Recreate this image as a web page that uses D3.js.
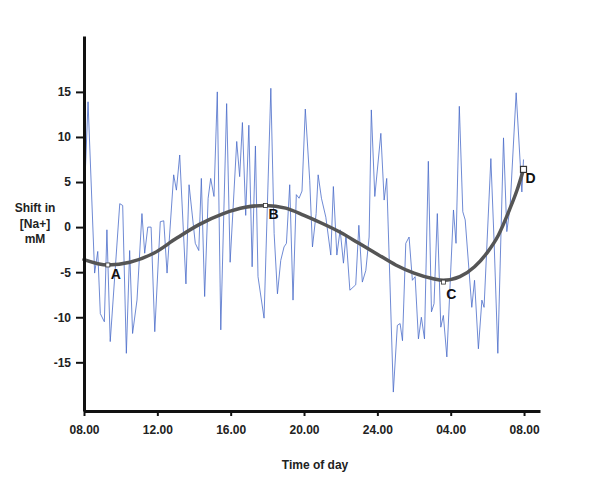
<!DOCTYPE html>
<html>
<head>
  <title>Shift in Na+ over the day</title>
  <style>
    body { margin: 0; background: #fff; }
    svg { font-family: "Liberation Sans", Arial, sans-serif; }
    .axis text { font-size: 12px; font-weight: bold; fill: #222; }
    .axis-label { font-size: 12px; font-weight: bold; fill: #222; }
    .mark-label { font-size: 14px; font-weight: bold; fill: #111; }
  </style>
</head>
<body>
  <script src="https://d3js.org/d3.v7.min.js"></script>
  <script>
// hours after 08.00 and the raw shift values (mM)
const rawHours = [0.05, 0.22, 0.58, 0.75, 0.89, 1.11, 1.25, 1.43, 1.95, 2.11, 2.31, 2.49, 2.65, 2.89,
  3.16, 3.31, 3.48, 3.66, 3.86, 4.16, 4.35, 4.53, 4.89, 5.04, 5.22, 5.56, 5.73, 6.07, 6.26, 6.40,
  6.58, 6.77, 6.91, 7.09, 7.27, 7.46, 7.78, 7.97, 8.33, 8.49, 8.64, 8.82, 8.99, 9.17, 9.35, 9.49,
  9.82, 10.19, 10.37, 10.55, 10.73, 10.91, 11.04, 11.22, 11.40, 11.58, 11.73, 11.89, 12.07, 12.31,
  12.46, 12.66, 12.77, 12.95, 13.19, 13.46, 13.60, 13.79, 13.97, 14.15, 14.29, 14.50, 14.82, 14.99,
  15.18, 15.37, 15.55, 15.67, 15.86, 16.19, 16.37, 16.51, 16.87, 17.09, 17.24, 17.37, 17.55, 17.73,
  17.91, 18.06, 18.24, 18.40, 18.57, 18.78, 18.95, 19.09, 19.27, 19.46, 19.60, 19.79, 20.15, 20.29,
  20.47, 20.66, 20.79, 21.15, 21.30, 21.51, 21.70, 21.82, 22.19, 22.37, 22.57, 22.88, 23.06, 23.24,
  23.57, 23.88, 23.97];
const rawValues = [5, 13.9, -5.1, -2.7, -9.6, -10.5, -0.3, -12.7, 2.6, 2.4, -14.0, -2.6, -11.8, -8.1,
  1.5, -2.9, 0, 0, -11.6, 0.6, 0.7, -5.1, 5.8, 4.1, 8.0, -6.3, 4.7, -1.8, -2.6, 5.4,
  -7.7, 3.2, 5.4, 3.4, 15.0, -11.4, 13.7, -3.9, 9.5, 5.6, 11.6, 1.3, 11.3, -4.4, 9.0, -5.5,
  -10.1, 15.4, -0.7, -7.4, -3.7, -2.2, -1.8, 4.7, -8.1, 3.6, 3.2, 4.0, 13.1, 5.2,
  -2.2, 1.5, 5.8, 3.2, 1.1, -3.1, 4.5, -3.1, -0.3, -4.0, -0.9, -7.0, -6.4, 0.2,
  -6.1, -4.8, -1.1, 13.0, 3.4, 10.4, 3.0, 5.4, -18.3, -10.9, -10.7, -12.6, -1.8, -1.1,
  -5.9, -5.5, -12.4, -10.0, -12.4, 7.3, -9.4, -8.5, 1.5, -11.1, -9.8, -14.4, 1.9, -1.8,
  13.4, 1.7, 0.8, -8.9, -5.9, -13.5, -8.1, -8.9, 7.6, -1.8, -14.0, 9.9, -0.5, 2.3,
  14.9, 3.9, 7.5];

// fitted trend
const fitHours = [0, 1.3, 2.5, 3.8, 5.0, 6.3, 7.6, 8.8, 9.9, 11.0, 12.0, 13.0, 14.0, 15.0, 16.0,
  17.0, 18.0, 19.0, 19.6, 20.5, 21.3, 22.0, 22.6, 23.2, 23.6, 23.97];
const fitValues = [-3.6, -4.2, -3.9, -2.9, -1.3, 0.3, 1.5, 2.2, 2.4, 2.1, 1.3, 0.4, -0.6, -1.8, -3.0,
  -4.2, -5.1, -5.7, -5.9, -5.5, -4.4, -2.8, -0.9, 1.9, 4.0, 6.4];

const markNames = ["A", "B", "C", "D"];
const markHours = [1.3, 9.9, 19.6, 23.97];
const markValues = [-4.2, 2.4, -6.1, 6.4];

const xTickHours = [0, 4, 8, 12, 16, 20, 24];
const xTickLabels = ["08.00", "12.00", "16.00", "20.00", "24.00", "04.00", "08.00"];
const yTicks = [-15, -10, -5, 0, 5, 10, 15];

const width = 600, height = 490;

const svg = d3.select("body").append("svg")
  .attr("width", width)
  .attr("height", height);

const x = d3.scaleLinear().domain([0, 24.87]).range([84, 540]);
const y = d3.scaleLinear().domain([-20.4, 21.2]).range([411, 36]);

// raw series
const raw = rawHours.map((h, i) => [h, rawValues[i]]);
svg.append("path")
  .datum(raw)
  .attr("fill", "none")
  .attr("stroke", "#4a6cc9")
  .attr("stroke-width", 0.8)
  .attr("d", d3.line().x(d => x(d[0])).y(d => y(d[1])));

// trend curve
const fit = fitHours.map((h, i) => [h, fitValues[i]]);
svg.append("path")
  .datum(fit)
  .attr("fill", "none")
  .attr("stroke", "#555")
  .attr("stroke-width", 3.5)
  .attr("stroke-linecap", "round")
  .attr("d", d3.line().curve(d3.curveMonotoneX).x(d => x(d[0])).y(d => y(d[1])));

// axes
const xAxis = svg.append("g")
  .attr("class", "axis")
  .attr("transform", "translate(0,411)")
  .call(d3.axisBottom(x).tickValues(xTickHours)
    .tickFormat((d, i) => xTickLabels[i])
    .tickSize(5).tickSizeOuter(0).tickPadding(9));
xAxis.select(".domain").attr("stroke", "#111").attr("stroke-width", 3);
xAxis.selectAll(".tick line").attr("stroke", "#111").attr("stroke-width", 2);

const yAxis = svg.append("g")
  .attr("class", "axis")
  .attr("transform", "translate(84,0)")
  .call(d3.axisLeft(y).tickValues(yTicks)
    .tickFormat(d => String(d))
    .tickSize(8).tickSizeOuter(0).tickPadding(5));
yAxis.select(".domain").attr("stroke", "#111").attr("stroke-width", 3);
yAxis.selectAll(".tick line").attr("stroke", "#111").attr("stroke-width", 2);

// markers
markNames.forEach((name, i) => {
  const s = name === "D" ? 6 : 4;
  const cx = x(markHours[i]), cy = y(markValues[i]);
  svg.append("rect")
    .attr("x", cx - s / 2).attr("y", cy - s / 2)
    .attr("width", s).attr("height", s)
    .attr("fill", "#fff")
    .attr("stroke", "#333")
    .attr("stroke-width", name === "D" ? 1.2 : 0.8);
  svg.append("text")
    .attr("class", "mark-label")
    .attr("x", cx + (name === "D" ? 2 : 3))
    .attr("y", cy + (name === "C" ? 17 : 14))
    .text(name);
});

// axis titles
svg.append("text")
  .attr("class", "axis-label")
  .attr("x", 315).attr("y", 469)
  .attr("text-anchor", "middle")
  .text("Time of day");

const yTitle = svg.append("text")
  .attr("class", "axis-label")
  .attr("text-anchor", "middle");
["Shift in", "[Na+]", "mM"].forEach((t, i) => {
  yTitle.append("tspan").attr("x", 35).attr("y", 212 + i * 15.5).text(t);
});
  </script>
</body>
</html>
